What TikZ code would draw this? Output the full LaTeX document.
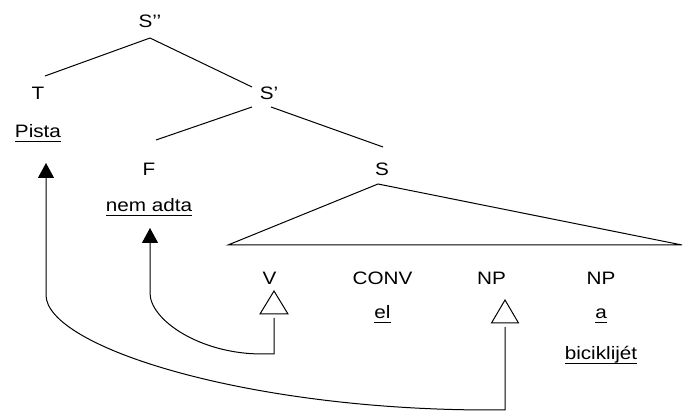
\documentclass[tikz,border=0pt]{standalone}
\usepackage{fontspec}
\setmainfont{Liberation Sans}[FakeStretch=1.15]
\usetikzlibrary{arrows.meta,calc}
\newsavebox\ulbox
% word-processor style underline: fixed distance below the baseline
\newcommand\wordline[1]{\sbox\ulbox{#1}\rlap{\rule[-4.2pt]{\wd\ulbox}{1.3pt}}\usebox\ulbox}
\begin{document}
\begin{tikzpicture}[x=1pt,y=-1pt,line width=1pt,
  lbl/.style={anchor=base,inner sep=0pt,font=\fontsize{18}{20}\selectfont},
  arr/.style={-{Triangle[width=16pt,length=15pt]}}]
\useasboundingbox (0,0) rectangle (683,419);

% labels
\node[lbl] (spp) at (150,28) {S’’};
\node[lbl] (t) at (38,100) {T};
\node[lbl] (pista) at (38,138) {\wordline{Pista}};
\node[lbl] (sp) at (269,100) {S’};
\node[lbl] (f) at (149,176) {F};
\node[lbl] (nemadta) at (149,212) {\wordline{nem adta}};
\node[lbl] (s) at (382,176) {S};
\node[lbl] (v) at (269.5,285) {V};
\node[lbl] (conv) at (382.5,285) {CONV};
\node[lbl] (np1) at (491.5,285) {NP};
\node[lbl] (np2) at (601,285) {NP};
\node[lbl] (el) at (382.5,319) {\wordline{el}};
\node[lbl] (a) at (601,319) {\wordline{a}};
\node[lbl] (bic) at (601,360) {\wordline{biciklijét}};

% branches
\draw ($(spp.base)+(0,10)$) -- ($(t.base)+(7,-24)$);
\draw ($(spp.base)+(0,10)$) -- ($(sp.base)+(-17,-13)$);
\draw ($(sp.base)+(-17,7)$) -- ($(f.base)+(7,-36)$);
\draw ($(sp.base)+(2,7)$) -- ($(s.base)+(1,-29)$);

% roof over S
\draw ($(s.base)+(-4,8)$) -- (228,245) -- (682,245) -- cycle;

% small roofs under V and NP
\coordinate (vtop) at ($(v.base)+(4.5,6)$);
\coordinate (nptop) at ($(np1.base)+(13.5,15)$);
\draw (vtop) -- ++(-14,23) -- ++(28,0) -- cycle;
\draw (nptop) -- ++(-13.5,23) -- ++(27,0) -- cycle;

% movement arrows
\draw[arr] ($(vtop)+(0,27)$) -- (274,354) -- (262,354)
  .. controls (200,354) and (150,320) .. (150,293)
  -- ($(nemadta.base)+(1,16)$);
\draw[arr] ($(nptop)+(0,27)$) -- (505,410) -- (490,410)
  .. controls (245,410) and (46,346.5) .. (46,295)
  -- ($(pista.base)+(8,25)$);
\end{tikzpicture}
\end{document}
